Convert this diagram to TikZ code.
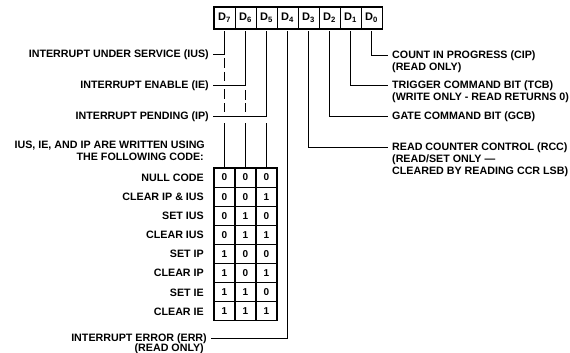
\documentclass[tikz,border=0pt]{standalone}
\usepackage{fontspec}
\setmainfont{Liberation Sans}
\begin{document}
\begin{tikzpicture}[x=1pt,y=-1pt,
  lbl/.style={font=\fontsize{10.7}{12}\selectfont\bfseries, inner xsep=4pt, inner ysep=0pt, text height=7.7pt, text depth=0pt},
  regcell/.style={draw, line width=0.8pt, minimum width=21pt, minimum height=22pt, inner sep=0pt, font=\fontsize{11}{12}\selectfont\bfseries},
  codecell/.style={draw, line width=1.2pt, minimum width=21pt, minimum height=19.1pt, inner sep=0pt, font=\fontsize{10}{12}\selectfont\bfseries},
  wire/.style={line width=0.9pt},
]
\useasboundingbox (0,0) rectangle (570,353);

% register
\foreach \i in {7,...,0}
  \node[regcell] (r\i) at ({224.5+21*(7-\i)},18) {D\textsubscript{\i}};
\draw[line width=1.8pt] (r7.north west) rectangle (r0.south east);

% code table
\foreach \a/\b/\c [count=\r] in {0/0/0,0/0/1,0/1/0,0/1/1,1/0/0,1/0/1,1/1/0,1/1/1}{
  \node[codecell] (t\r-1) at (224.5,{168+19.1*(\r-0.5)}) {\a};
  \node[codecell] (t\r-2) at (245.5,{168+19.1*(\r-0.5)}) {\b};
  \node[codecell] (t\r-3) at (266.5,{168+19.1*(\r-0.5)}) {\c};
}
\foreach \t [count=\r] in {NULL CODE,CLEAR IP \& IUS,SET IUS,CLEAR IUS,SET IP,CLEAR IP,SET IE,CLEAR IE}
  \node[lbl, anchor=east] (c\r) at (208,{168+19.1*(\r-0.5)}) {\t};

% left labels
\node[lbl, anchor=east] (ius) at (213,54) {INTERRUPT UNDER SERVICE (IUS)};
\node[lbl, anchor=east] (ie) at (213,85) {INTERRUPT ENABLE (IE)};
\node[lbl, anchor=east] (ip) at (213,116) {INTERRUPT PENDING (IP)};
\node[lbl, anchor=east] (note1) at (209,145) {IUS, IE, AND IP ARE WRITTEN USING};
\node[lbl, anchor=east] (note2) at (208,157) {THE FOLLOWING CODE:};
\node[lbl, anchor=east] (err) at (211,338) {INTERRUPT ERROR (ERR)};
\node[lbl, anchor=east] (err2) at (208,347.5) {(READ ONLY)};

% right labels
\node[lbl, anchor=west] (cip) at (388,55) {COUNT IN PROGRESS (CIP)};
\node[lbl, anchor=west] (cip2) at (388,67) {(READ ONLY)};
\node[lbl, anchor=west] (tcb) at (388,85) {TRIGGER COMMAND BIT (TCB)};
\node[lbl, anchor=west] (tcb2) at (388,97) {(WRITE ONLY - READ RETURNS 0)};
\node[lbl, anchor=west] (gcb) at (388,116) {GATE COMMAND BIT (GCB)};
\node[lbl, anchor=west] (rcc) at (388,147) {READ COUNTER CONTROL (RCC)};
\node[lbl, anchor=west] (rcc2) at (388,159) {(READ/SET ONLY —};
\node[lbl, anchor=west] (rcc3) at (388,171) {CLEARED BY READING CCR LSB)};

% helper coordinates for the dashed continuations
\coordinate (d7a) at (224.5,58);
\coordinate (d7b) at (224.5,112);
\coordinate (d7c) at (224.5,123);
\coordinate (d6a) at (245.5,90);
\coordinate (d6b) at (245.5,112);
\coordinate (d6c) at (245.5,123);
\coordinate (d5c) at (266.5,123);

% connectors
\draw[wire, shorten <=2pt] (r7.south) |- (ius.east);
\draw[wire, dash pattern=on 10pt off 4pt on 9pt off 8pt on 10pt off 4pt on 9pt off 30pt] (d7a) -- (d7b);
\draw[wire] (d7c) -- (t1-1.north);

\draw[wire, shorten <=2pt] (r6.south) |- (ie.east);
\draw[wire, dash pattern=on 10pt off 3pt on 9pt off 30pt] (d6a) -- (d6b);
\draw[wire] (d6c) -- (t1-2.north);

\draw[wire, shorten <=2pt] (r5.south) |- (ip.east);
\draw[wire] (d5c) -- (t1-3.north);

\draw[wire, shorten <=2pt] (r4.south) |- (err.east);
\draw[wire, shorten <=2pt] (r3.south) |- (rcc.west);
\draw[wire, shorten <=2pt] (r2.south) |- (gcb.west);
\draw[wire, shorten <=2pt] (r1.south) |- (tcb.west);
\draw[wire, shorten <=2pt] (r0.south) |- (cip.west);
\end{tikzpicture}
\end{document}
